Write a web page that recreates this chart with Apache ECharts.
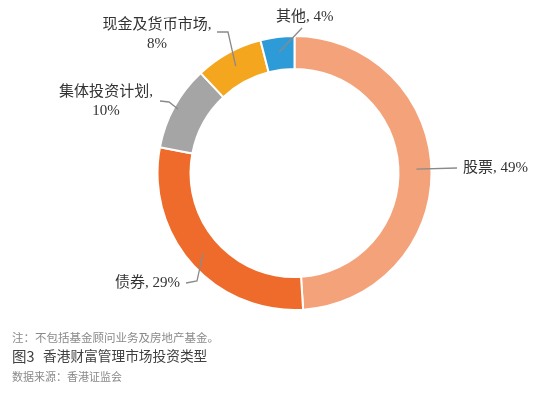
<!DOCTYPE html>
<html>
<head>
<meta charset="utf-8">
<script src="https://cdn.jsdelivr.net/npm/echarts@6/dist/echarts.min.js"></script>
<style>
html,body{margin:0;padding:0;background:#fff;}
#chart{width:541px;height:395px;}
</style>
</head>
<body>
<div id="chart"></div>
<script>
// ---- data ----
const categories = ['股票', '债券', '集体投资计划', '现金及货币市场', '其他'];
const shares = [49, 29, 10, 8, 4];
const note = '注：不包括基金顾问业务及房地产基金。';
const figNo = '图3';
const figTitle = '香港财富管理市场投资类型';
const source = '数据来源：香港证监会';

// ---- styling / layout ----
const colors = ['#F4A27A', '#EE6B2B', '#A5A5A5', '#F5A61F', '#2D9BD8'];
const CX = 294.5, CY = 173, R_IN = 104, R_OUT = 137;
const wrapped = [false, false, true, true, false];
// label placement (text anchor, leader-line bends) per slice
const labelSpots = [
  { x: 463, y: 168, align: 'left',   startR: 122, bends: [[457, 168]] },
  { x: 180, y: 283, align: 'right',  startR: 122, bends: [[197, 281], [186, 283]] },
  { x: 106, y: 101.5, align: 'center', startR: 133, bends: [[169, 102], [160, 101]] },
  { x: 157, y: 34.5, align: 'center', startR: 122, bends: [[228, 32], [217, 32]] },
  { x: 276, y: 17,  align: 'left',   startR: 122, bends: [[302, 28]] }
];

const chart = echarts.init(document.getElementById('chart'), null, { renderer: 'canvas' });
const LABEL_FONT = '"Liberation Serif", "Noto Sans CJK SC", serif';
const SANS = '"Noto Sans CJK SC", sans-serif';

const pieBase = {
  type: 'pie',
  center: [CX, CY],
  radius: [R_IN, R_OUT],
  startAngle: 90,
  clockwise: true,
  avoidLabelOverlap: false,
  silent: true
};

chart.setOption({
  backgroundColor: '#ffffff',
  animation: false,
  series: [
    Object.assign({}, pieBase, {
      z: 2,
      itemStyle: { borderColor: '#ffffff', borderWidth: 2 },
      data: categories.map((c, i) => ({ name: c, value: shares[i], itemStyle: { color: colors[i] } })),
      label: { show: false },
      labelLine: { show: false }
    }),
    // transparent overlay carrying the labels so leader lines sit above the ring
    Object.assign({}, pieBase, {
      z: 3,
      itemStyle: { color: 'rgba(0,0,0,0)', borderWidth: 0 },
      data: categories.map((c, i) => ({ name: c, value: shares[i] })),
      label: {
        show: true,
        position: 'outside',
        fontFamily: LABEL_FONT,
        fontSize: 15,
        lineHeight: 19,
        color: '#333333',
        opacity: 1,
        formatter: p => p.name + ',' + (wrapped[p.dataIndex] ? '\n' : ' ') + p.value + '%'
      },
      labelLine: {
        show: true,
        length: 10,
        length2: 10,
        lineStyle: { color: '#8a8a8a', width: 1.3, opacity: 1 }
      },
      labelLayout: function (params) {
        const s = labelSpots[params.dataIndex];
        const p0 = params.labelLinePoints ? params.labelLinePoints[0] : [CX, CY];
        const dx = p0[0] - CX, dy = p0[1] - CY;
        const d = Math.sqrt(dx * dx + dy * dy) || 1;
        const start = [CX + dx / d * s.startR, CY + dy / d * s.startR];
        const pts = [start].concat(s.bends);
        if (pts.length === 2) pts.push(s.bends[0].slice());
        return {
          x: s.x,
          y: s.y,
          align: s.align,
          verticalAlign: 'middle',
          labelLinePoints: pts
        };
      }
    })
  ],
  graphic: [
    { type: 'text', x: 12, y: 332, style: { text: note, font: '11.5px ' + SANS, fill: '#8a8a8a' } },
    { type: 'text', x: 12, y: 349, style: { text: figNo, font: '14.5px ' + SANS, fill: '#404040' } },
    { type: 'text', x: 43, y: 349, style: { text: figTitle, font: '13.7px ' + SANS, fill: '#404040' } },
    { type: 'text', x: 12, y: 371, style: { text: source, font: '11px ' + SANS, fill: '#8a8a8a' } }
  ]
});
</script>
</body>
</html>
